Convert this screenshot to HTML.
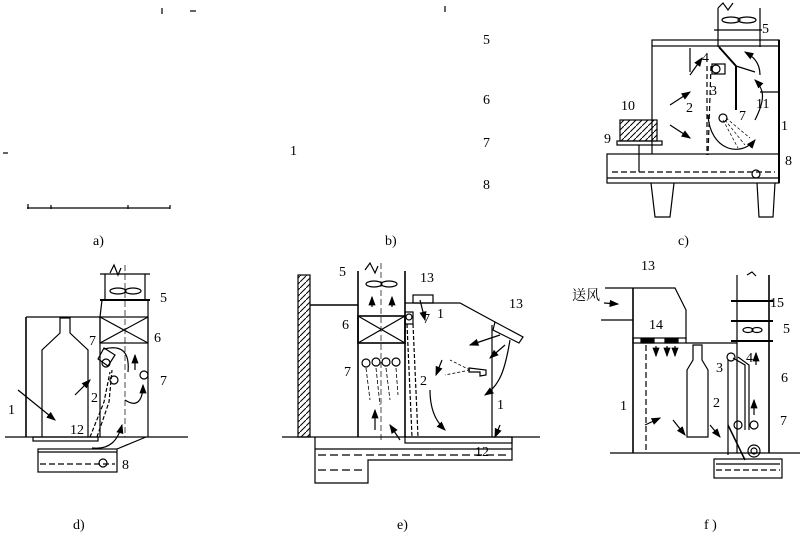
<!DOCTYPE html>
<html><head><meta charset="utf-8"><style>
html,body{margin:0;padding:0;background:#fff;width:802px;height:540px;overflow:hidden}
svg{display:block}
text{font-family:"Liberation Serif","Noto Serif CJK SC",serif;font-size:14px;fill:#000}
</style></head><body>
<svg width="802" height="540" viewBox="0 0 802 540" xmlns="http://www.w3.org/2000/svg">
<defs>
<marker id="a" markerWidth="8" markerHeight="6" refX="7" refY="3" orient="auto"><path d="M0,0 L8,3 L0,6z"/></marker>
<pattern id="h" width="6" height="6" patternUnits="userSpaceOnUse"><path d="M0,6 L6,0" stroke="#000" stroke-width="1"/></pattern>
</defs>
<g stroke="#000" fill="none" stroke-width="1.2">
<line x1="27" y1="208" x2="170" y2="208"/>
<line x1="28" y1="204" x2="28" y2="209"/><line x1="51" y1="205" x2="51" y2="209"/><line x1="128" y1="205" x2="128" y2="209"/><line x1="170" y1="205" x2="170" y2="209"/>
<line x1="162" y1="8" x2="162" y2="14"/><line x1="190" y1="11" x2="196" y2="11"/><line x1="445" y1="6" x2="445" y2="12"/>
<line x1="3" y1="153" x2="8" y2="153"/>
</g>
<text x="483" y="44" font-size="12">5</text><text x="483" y="104" font-size="12">6</text><text x="483" y="147" font-size="12">7</text><text x="483" y="189" font-size="12">8</text>
<text x="290" y="155" font-size="12">1</text>
<text x="93" y="245">a)</text><text x="385" y="245" font-size="10">b)</text>

<!-- Panel c -->
<g stroke="#000" fill="none" stroke-width="1.2">
<rect x="652" y="40" width="127" height="6"/>
<line x1="779" y1="40" x2="779" y2="183" stroke-width="2"/>
<line x1="652" y1="46" x2="652" y2="154"/>
<line x1="718" y1="8" x2="718" y2="47"/><line x1="760" y1="8" x2="760" y2="47"/>
<path d="M718,8 L723,3 L728,10 L733,3"/>
<line x1="714" y1="30" x2="762" y2="30"/>
<ellipse cx="731" cy="20" rx="9" ry="3"/><ellipse cx="747" cy="20" rx="9" ry="3"/>
<rect x="607" y="154" width="172" height="29"/>
<line x1="607" y1="178" x2="779" y2="178"/>
<line x1="612" y1="172" x2="775" y2="172" stroke-dasharray="6,3"/>
<path d="M651,183 L655,217 L670,217 L674,183"/><path d="M757,183 L759,217 L773,217 L775,183"/>
<rect x="620" y="120" width="37" height="21" fill="url(#h)"/>
<rect x="617" y="141" width="45" height="4"/>
<line x1="639" y1="145" x2="639" y2="172"/>
<line x1="690" y1="48" x2="690" y2="72"/>
<path d="M707,66 L707,155" stroke-dasharray="5,3"/>
<path d="M711,66 L708,155" stroke-dasharray="5,3"/>
<rect x="712" y="64" width="13" height="10"/><circle cx="716" cy="69" r="4"/>
<line x1="736" y1="66" x2="736" y2="110" stroke-width="2"/>
<line x1="719" y1="47" x2="736" y2="66" stroke-width="2"/><line x1="736" y1="66" x2="755" y2="72"/>
<line x1="760" y1="92" x2="778" y2="92"/>
<circle cx="723" cy="118" r="4"/><circle cx="756" cy="174" r="4"/>
<path d="M708,115 C710,150 740,158 755,140" marker-end="url(#a)"/>
<path d="M670,105 L690,92" marker-end="url(#a)"/><path d="M670,125 L690,138" marker-end="url(#a)"/>
<path d="M690,75 L702,58" marker-end="url(#a)"/><path d="M755,120 C765,100 765,90 755,80" marker-end="url(#a)"/>
<path d="M760,75 C760,60 750,55 745,52" marker-end="url(#a)"/>
<path d="M723,120 L738,148 M725,120 L745,145 M726,118 L750,138" stroke-width="0.7" stroke-dasharray="3,2"/>
</g>
<g font-size="13"><text x="762" y="33">5</text><text x="702" y="62">4</text><text x="710" y="95">3</text><text x="686" y="112">2</text><text x="739" y="120">7</text><text x="756" y="108">11</text><text x="781" y="130">1</text><text x="621" y="110">10</text><text x="604" y="143">9</text><text x="785" y="165">8</text></g>
<text x="678" y="245">c)</text>

<!-- Panel d -->
<g stroke="#000" fill="none" stroke-width="1.2">
<line x1="26" y1="317" x2="100" y2="317"/><line x1="26" y1="317" x2="26" y2="437" stroke-width="1.6"/>
<path d="M102,300 L100,317 L100,437 M148,300 L148,437"/>
<line x1="100" y1="274" x2="150" y2="274"/><line x1="100" y1="300" x2="150" y2="300" stroke-width="2"/>
<line x1="105" y1="274" x2="105" y2="300"/><line x1="145" y1="274" x2="145" y2="300"/>
<path d="M110,273 L114,265 L118,275 L121,268"/>
<line x1="125" y1="265" x2="125" y2="437" stroke-dasharray="6,3" stroke-width="0.7"/>
<ellipse cx="118" cy="291" rx="8" ry="3"/><ellipse cx="133" cy="291" rx="8" ry="3"/>
<rect x="100" y="317" width="48" height="26"/><path d="M100,317 L148,343 M148,317 L100,343"/>
<path d="M42,437 L42,350 L60,333 L60,318 L70,318 L70,333 L88,350 L88,437"/>
<line x1="5" y1="437" x2="188" y2="437"/>
<rect x="33" y="437" width="65" height="4"/>
<rect x="38" y="449" width="79" height="23"/><path d="M117,449 L146,437"/>
<line x1="38" y1="452" x2="117" y2="452"/><line x1="40" y1="464" x2="115" y2="464" stroke-dasharray="6,3"/>
<circle cx="103" cy="463" r="4"/>
<path d="M90,437 L104,402 L110,372 M97,437 L109,402 L112,370" stroke-dasharray="4,2"/>
<path d="M98,359 L104,348 L115,355 L108,366 Z"/>
<circle cx="106" cy="363" r="4"/><circle cx="114" cy="380" r="4"/><circle cx="144" cy="375" r="4"/>
<path d="M104,349 C120,345 130,350 128,372"/>
<path d="M125,400 C140,410 143,395 143,385" marker-end="url(#a)"/>
<path d="M135,370 L135,355" marker-end="url(#a)"/>
<path d="M18,390 L55,420" marker-end="url(#a)"/><path d="M75,395 L90,380" marker-end="url(#a)"/>
<path d="M92,448 C110,450 118,440 122,425" marker-end="url(#a)"/>
</g>
<g font-size="13"><text x="160" y="302">5</text><text x="154" y="342">6</text><text x="89" y="345">7</text><text x="160" y="385">7</text><text x="91" y="402">2</text><text x="8" y="414">1</text><text x="70" y="434">12</text><text x="122" y="469">8</text></g>
<text x="73" y="529">d)</text>

<!-- Panel e -->
<g stroke="#000" fill="none" stroke-width="1.2">
<rect x="298" y="275" width="12" height="162" fill="url(#h)"/>
<line x1="310" y1="305" x2="358" y2="305" stroke-width="1.6"/>
<line x1="358" y1="271" x2="358" y2="437" stroke-width="1.6"/><line x1="405" y1="271" x2="405" y2="437" stroke-width="1.6"/>
<path d="M365,270 L370,263 L375,273 L378,266"/>
<line x1="381" y1="263" x2="381" y2="440" stroke-dasharray="6,3" stroke-width="0.7"/>
<ellipse cx="374" cy="284" rx="8" ry="3"/><ellipse cx="389" cy="284" rx="8" ry="3"/>
<rect x="358" y="316" width="47" height="27" stroke-width="1.6"/><path d="M358,316 L405,343 M405,316 L358,343"/>
<path d="M405,303 L460,303 L495,322"/>
<rect x="413" y="295" width="20" height="8"/>
<path d="M495,322 L523,337 L519,343 L493,330 Z"/>
<line x1="492" y1="325" x2="492" y2="437"/>
<rect x="405" y="312" width="8" height="12"/><circle cx="409" cy="317" r="3"/>
<path d="M407,324 L412,437 M413,324 L418,437" stroke-dasharray="4,2"/>
<circle cx="366" cy="363" r="4"/><circle cx="376" cy="362" r="4"/><circle cx="386" cy="362" r="4"/><circle cx="396" cy="362" r="4"/>
<path d="M366,368 L370,400 M376,368 L380,405 M386,368 L390,400 M396,368 L398,395" stroke-dasharray="4,2" stroke-width="0.8"/>
<path d="M469,368 L486,370 L486,375 L480,376 L480,372 L469,372Z"/>
<path d="M470,370 L450,360 M470,370 L445,375" stroke-dasharray="3,2" stroke-width="0.8"/>
<line x1="282" y1="437" x2="540" y2="437"/>
<path d="M315,437 L315,483 L368,483 L368,460 L512,460 L512,437"/>
<line x1="315" y1="449" x2="512" y2="449"/><line x1="318" y1="455" x2="510" y2="455" stroke-dasharray="8,4"/>
<line x1="318" y1="470" x2="365" y2="470" stroke-dasharray="8,4"/>
<rect x="405" y="437" width="107" height="6"/>
<path d="M420,300 L425,320" marker-end="url(#a)"/><path d="M442,360 L436,375" marker-end="url(#a)"/>
<path d="M500,335 L470,345" marker-end="url(#a)"/><path d="M505,345 L490,358" marker-end="url(#a)"/>
<path d="M510,340 C505,370 500,385 485,395" marker-end="url(#a)"/>
<path d="M430,390 C430,415 440,425 445,430" marker-end="url(#a)"/>
<path d="M500,425 L495,437" marker-end="url(#a)"/>
<path d="M375,430 L375,410" marker-end="url(#a)"/><path d="M400,440 L390,425" marker-end="url(#a)"/>
<path d="M372,307 L372,297" marker-end="url(#a)"/><path d="M392,307 L392,297" marker-end="url(#a)"/>
</g>
<g font-size="13"><text x="339" y="276">5</text><text x="420" y="282">13</text><text x="509" y="308">13</text><text x="342" y="329">6</text><text x="423" y="323">7</text><text x="437" y="318">1</text><text x="344" y="376">7</text><text x="420" y="385">2</text><text x="497" y="409">1</text><text x="475" y="456">12</text></g>
<text x="397" y="529">e)</text>

<!-- Panel f -->
<g stroke="#000" fill="none" stroke-width="1.2">
<path d="M605,288 L675,288 L686,310 L686,340"/>
<line x1="633" y1="288" x2="633" y2="453" stroke-width="1.6"/>
<line x1="601" y1="320" x2="633" y2="320"/>
<rect x="633" y="338" width="53" height="5"/>
<rect x="641" y="339" width="13" height="4" fill="#000"/><rect x="665" y="339" width="13" height="4" fill="#000"/>
<line x1="686" y1="343" x2="737" y2="343"/>
<line x1="737" y1="275" x2="737" y2="453"/><line x1="769" y1="275" x2="769" y2="453" stroke-width="1.6"/>
<path d="M747,275 L752,272 L756,276"/>
<line x1="731" y1="301" x2="773" y2="301" stroke-width="2"/><line x1="731" y1="321" x2="773" y2="321" stroke-width="2"/><line x1="731" y1="341" x2="773" y2="341" stroke-width="2"/>
<ellipse cx="748" cy="330" rx="5" ry="2.5"/><ellipse cx="757" cy="330" rx="5" ry="2.5"/>
<path d="M687,437 L687,370 L693,360 L693,345 L702,345 L702,360 L708,370 L708,437 Z"/>
<line x1="646" y1="345" x2="646" y2="450" stroke-dasharray="6,3"/>
<line x1="728" y1="360" x2="728" y2="455"/>
<path d="M733,358 L745,365 L745,430 M738,357 L749,365 L749,430"/>
<circle cx="731" cy="357" r="4"/><circle cx="738" cy="425" r="4"/><circle cx="754" cy="425" r="4"/><circle cx="754" cy="451" r="6"/><circle cx="754" cy="451" r="3"/>
<line x1="610" y1="453" x2="800" y2="453"/>
<rect x="714" y="459" width="68" height="19"/><line x1="716" y1="464" x2="780" y2="464"/><line x1="716" y1="470" x2="780" y2="470" stroke-dasharray="6,3"/>
<path d="M728,425 L745,460" stroke-width="1.5"/>
<path d="M604,303 L618,304" marker-end="url(#a)"/>
<path d="M656,346 L656,356" marker-end="url(#a)"/><path d="M667,346 L667,356" marker-end="url(#a)"/><path d="M675,346 L675,356" marker-end="url(#a)"/>
<path d="M673,420 L685,435" marker-end="url(#a)"/><path d="M710,425 L720,437" marker-end="url(#a)"/>
<path d="M756,365 L756,353" marker-end="url(#a)"/><path d="M754,415 L754,400" marker-end="url(#a)"/>
<path d="M645,425 L660,418" marker-end="url(#a)"/>
</g>
<g font-size="13"><text x="641" y="270">13</text><text x="572" y="300">送风</text><text x="649" y="329">14</text><text x="770" y="307">15</text><text x="783" y="333">5</text><text x="746" y="362">4</text><text x="716" y="372">3</text><text x="781" y="382">6</text><text x="713" y="407">2</text><text x="620" y="410">1</text><text x="780" y="425">7</text></g>
<text x="704" y="529">f )</text>
</svg>
</body></html>
